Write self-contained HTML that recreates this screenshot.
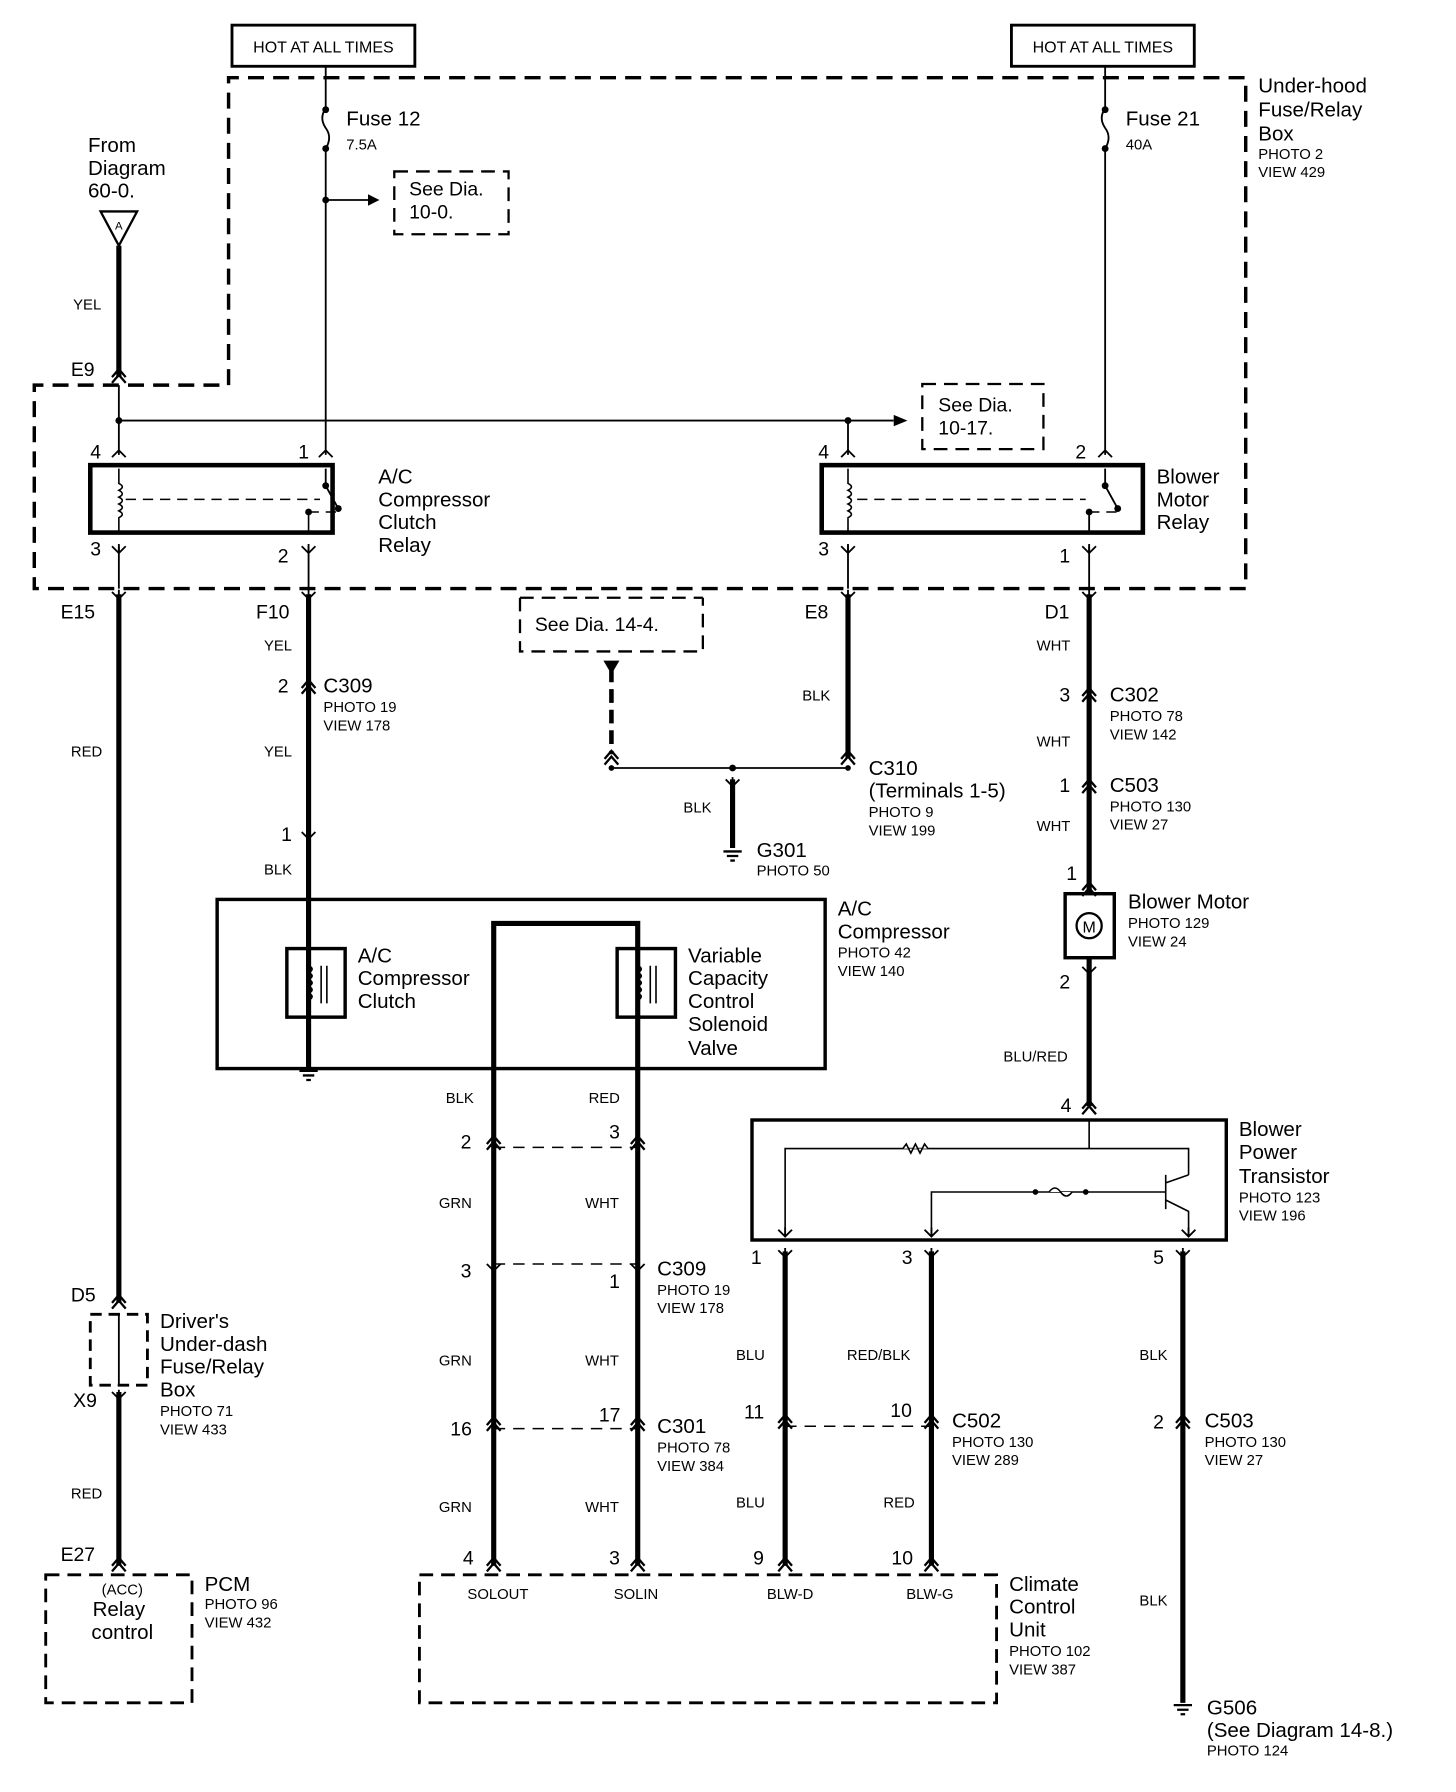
<!DOCTYPE html>
<html><head><meta charset="utf-8"><style>
html,body{margin:0;padding:0;background:#fff;}
svg{display:block;}
text{font-family:"Liberation Sans",sans-serif;fill:#000;}
.b{font-size:18px;}
.s{font-size:13px;}
.n{font-size:17px;}
</style></head><body>
<svg width="1456" height="1792" viewBox="0 0 1274 1568" preserveAspectRatio="none" xmlns="http://www.w3.org/2000/svg">
<defs>
<g id="cu" fill="none" stroke="#000" stroke-width="2"><path d="M-6 4 L0 -3 L6 4 M-6 9 L0 2 L6 9"/></g>
<g id="yd" fill="none" stroke="#000" stroke-width="1.6"><path d="M-6 -6 L0 0 L6 -6 M0 0 V-8"/></g>
<g id="yu" fill="none" stroke="#000" stroke-width="1.6"><path d="M-6 6 L0 0 L6 6"/></g>
<g id="gnd" stroke="#000" stroke-width="2"><path d="M-8 0 H8 M-5 4 H5 M-2 8 H2"/></g>
</defs>
<g fill="none" stroke="#000">
<rect x="203" y="22" width="160" height="36" stroke-width="2.5"/>
<rect x="885" y="22" width="160" height="36" stroke-width="2.5"/>
<path d="M200 337 V68 H1090 V515 H30 V337 H200" stroke-width="3" stroke-dasharray="14 8"/>
<path d="M285 58 V95 M285 130 V398" stroke-width="1.6"/>
<path d="M285 95 q-6 8 0 17 q6 8 0 18" stroke-width="1.6"/>
<path d="M967 58 V95 M967 130 V398" stroke-width="1.6"/>
<path d="M967 95 q-6 8 0 17 q6 8 0 18" stroke-width="1.6"/>
<path d="M285 175 H322" stroke-width="1.6"/>
<rect x="345" y="150" width="100" height="55" stroke-width="2" stroke-dasharray="12 7"/>
<path d="M88 185 H120 L104 215 Z" stroke-width="2"/>
<path d="M104 215 V330" stroke-width="4.5"/>
<path d="M104 337 V398 M104 368 H782" stroke-width="1.6"/>
<path d="M742 368 V398" stroke-width="1.6"/>
<rect x="807" y="336" width="106" height="57" stroke-width="2" stroke-dasharray="12 7"/>
<rect x="79" y="407" width="212" height="59" stroke-width="4"/>
<rect x="719" y="407" width="281" height="59" stroke-width="4"/>
<path d="M104 410 V423 q6 3 0 6 q6 3 0 6 q6 3 0 6 q6 3 0 6 q6 3 0 6 V466 M742 410 V423 q6 3 0 6 q6 3 0 6 q6 3 0 6 q6 3 0 6 q6 3 0 6 V466 M270 466 V448" stroke-width="1.4"/>
<path d="M110 437 H280 M270 448 H296 M750 437 H950 M953 448 H980" stroke-width="1.3" stroke-dasharray="9 6"/>
<path d="M285 410 V425 L296 445 M967 410 V425 L978 445 M953 466 V448" stroke-width="1.6"/>
<path d="M104 478 V515 M270 478 V515 M742 478 V515 M953 478 V515" stroke-width="1.6"/>
<path d="M104 520 V1140 M104 1218 V1370" stroke-width="4.5"/>
<path d="M104 1150 V1212" stroke-width="1.6"/>
<rect x="79" y="1150" width="50" height="62" stroke-width="2.5" stroke-dasharray="10 6"/>
<path d="M270 520 V935" stroke-width="4.5"/>
<path d="M742 520 V663" stroke-width="4.5"/>
<path d="M953 520 V782 M953 838 V968" stroke-width="4.5"/>
<path d="M455 523 V570 H615 V523 M455 523 H615" stroke-width="2" stroke-dasharray="12 7"/>
<path d="M535 585 V660" stroke-width="4" stroke-dasharray="12 6"/>
<path d="M535 672 H742" stroke-width="1.6"/>
<path d="M641 682 V742" stroke-width="4.5"/>
<rect x="190" y="787" width="532" height="148" stroke-width="3"/>
<rect x="251" y="830" width="51" height="60" stroke-width="3"/>
<rect x="540" y="830" width="51" height="60" stroke-width="3"/>
<path d="M432 1370 V808 H558 V1370" stroke-width="4.5"/>
<path d="M281 845 V878 M286 845 V878 M569 845 V878 M574 845 V878" stroke-width="1.4"/>
<path d="M270 845 q6 3 0 6 q6 3 0 6 q6 3 0 6 q6 3 0 6 q6 3 0 6 M558 845 q6 3 0 6 q6 3 0 6 q6 3 0 6 q6 3 0 6 q6 3 0 6" stroke-width="1.6"/>
<path d="M432 1004 H558 M432 1106 H558 M432 1250 H558 M687 1248 H815" stroke-width="1.3" stroke-dasharray="10 7"/>
<rect x="932" y="782" width="43" height="56" stroke-width="3"/>
<circle cx="953" cy="810" r="11" stroke-width="2"/>
<rect x="658" y="980" width="415" height="105" stroke-width="3"/>
<path d="M953 980 V1005 H687 V1082 M953 1005 H1040 V1028 M1020 1028 V1058 M1020 1035 L1040 1028 M1020 1050 L1040 1060 V1082 M815 1082 V1043 H1020" stroke-width="1.4"/>
<path d="M790 1005 l3 -4 l4 8 l4 -8 l4 8 l4 -8 l3 4" stroke="#000" fill="#fff" stroke-width="1.4"/>
<path d="M918 1043 q5 -7 10 0 q5 7 10 0" fill="#fff" stroke-width="1.4"/>
<path d="M687 1095 V1370 M815 1095 V1370 M1035 1095 V1490" stroke-width="4.5"/>
<rect x="40" y="1378" width="128" height="112" stroke-width="2.5" stroke-dasharray="12 7"/>
<rect x="367" y="1378" width="505" height="112" stroke-width="2.5" stroke-dasharray="12 7"/>
</g>
<g fill="#000">
<circle cx="285" cy="175" r="3"/><circle cx="285" cy="96" r="3"/><circle cx="285" cy="130" r="3"/>
<circle cx="967" cy="96" r="3"/><circle cx="967" cy="130" r="3"/>
<circle cx="104" cy="368" r="3"/><circle cx="742" cy="368" r="3"/>
<circle cx="641" cy="672" r="3"/><circle cx="535" cy="672" r="2.5"/><circle cx="742" cy="672" r="2.5"/>
<circle cx="285" cy="425" r="3"/><circle cx="296" cy="445" r="3"/><circle cx="270" cy="448" r="3"/>
<circle cx="967" cy="425" r="3"/><circle cx="978" cy="445" r="3"/><circle cx="953" cy="448" r="3"/>
<circle cx="906" cy="1043" r="2.5"/><circle cx="950" cy="1043" r="2.5"/>
<path d="M322 170 L332 175 L322 180 Z"/><path d="M782 363 L794 368 L782 373 Z"/>
<path d="M528 578 H542 L535 590 Z"/>
</g>
<use href="#cu" x="104" y="326"/>
<use href="#yu" x="104" y="394"/><use href="#yu" x="285" y="394"/><use href="#yu" x="742" y="394"/><use href="#yu" x="967" y="394"/>
<use href="#yd" x="104" y="484"/><use href="#yd" x="270" y="484"/><use href="#yd" x="742" y="484"/><use href="#yd" x="953" y="484"/>
<use href="#yd" x="104" y="524"/><use href="#yd" x="270" y="524"/><use href="#yd" x="742" y="524"/><use href="#yd" x="953" y="524"/>
<use href="#cu" x="270" y="598"/><use href="#yd" x="270" y="734"/>
<use href="#cu" x="535" y="660"/><use href="#cu" x="742" y="660"/><use href="#yd" x="641" y="688"/>
<use href="#cu" x="953" y="605"/><use href="#cu" x="953" y="685"/><use href="#cu" x="953" y="775"/><use href="#yd" x="953" y="852"/><use href="#cu" x="953" y="966"/>
<use href="#cu" x="432" y="997"/><use href="#cu" x="558" y="997"/>
<use href="#yd" x="432" y="1112"/><use href="#yd" x="558" y="1112"/>
<use href="#cu" x="432" y="1243"/><use href="#cu" x="558" y="1243"/>
<use href="#cu" x="432" y="1366"/><use href="#cu" x="558" y="1366"/><use href="#cu" x="687" y="1366"/><use href="#cu" x="815" y="1366"/><use href="#cu" x="104" y="1366"/>
<use href="#yd" x="687" y="1100"/><use href="#yd" x="815" y="1100"/><use href="#yd" x="1035" y="1100"/>
<use href="#yd" x="687" y="1082"/><use href="#yd" x="815" y="1082"/><use href="#yd" x="1040" y="1082"/>
<use href="#cu" x="687" y="1241"/><use href="#cu" x="815" y="1241"/><use href="#cu" x="1035" y="1241"/>
<use href="#cu" x="104" y="1136"/><use href="#yd" x="104" y="1224"/>
<use href="#gnd" x="270" y="937"/><use href="#gnd" x="641" y="745"/><use href="#gnd" x="1035" y="1492"/>
<text x="283" y="46" text-anchor="middle" class="s" style="font-size:14px">HOT AT ALL TIMES</text>
<text x="965" y="46" text-anchor="middle" class="s" style="font-size:14px">HOT AT ALL TIMES</text>
<text x="303" y="110" class="b">Fuse 12</text><text x="303" y="131" class="s">7.5A</text>
<text x="985" y="110" class="b">Fuse 21</text><text x="985" y="131" class="s">40A</text>
<text x="1101" y="81" class="b">Under-hood</text><text x="1101" y="102" class="b">Fuse/Relay</text><text x="1101" y="123" class="b">Box</text>
<text x="1101" y="139" class="s">PHOTO 2</text><text x="1101" y="155" class="s">VIEW 429</text>
<text x="358" y="171" class="n">See Dia.</text><text x="358" y="191" class="n">10-0.</text>
<text x="821" y="360" class="n">See Dia.</text><text x="821" y="380" class="n">10-17.</text>
<text x="77" y="133" class="b">From</text><text x="77" y="153" class="b">Diagram</text><text x="77" y="173" class="b">60-0.</text>
<text x="104" y="201" text-anchor="middle" style="font-size:10px">A</text>
<text x="64" y="271" class="s">YEL</text><text x="62" y="329" class="n">E9</text>
<text x="79" y="401" class="n">4</text><text x="261" y="401" class="n">1</text><text x="716" y="401" class="n">4</text><text x="941" y="401" class="n">2</text>
<text x="79" y="486" class="n">3</text><text x="243" y="492" class="n">2</text><text x="716" y="486" class="n">3</text><text x="927" y="492" class="n">1</text>
<text x="331" y="423" class="b">A/C</text><text x="331" y="443" class="b">Compressor</text><text x="331" y="463" class="b">Clutch</text><text x="331" y="483" class="b">Relay</text>
<text x="1012" y="423" class="b">Blower</text><text x="1012" y="443" class="b">Motor</text><text x="1012" y="463" class="b">Relay</text>
<text x="53" y="541" class="n">E15</text><text x="224" y="541" class="n">F10</text><text x="704" y="541" class="n">E8</text><text x="914" y="541" class="n">D1</text>
<text x="468" y="552" class="n">See Dia. 14-4.</text>
<text x="62" y="662" class="s">RED</text>
<text x="231" y="569" class="s">YEL</text><text x="231" y="662" class="s">YEL</text><text x="231" y="765" class="s">BLK</text>
<text x="243" y="606" class="n">2</text><text x="283" y="606" class="b">C309</text><text x="283" y="623" class="s">PHOTO 19</text><text x="283" y="639" class="s">VIEW 178</text>
<text x="246" y="736" class="n">1</text>
<text x="702" y="613" class="s">BLK</text>
<text x="598" y="711" class="s">BLK</text>
<text x="760" y="678" class="b">C310</text><text x="760" y="698" class="b">(Terminals 1-5)</text><text x="760" y="715" class="s">PHOTO 9</text><text x="760" y="731" class="s">VIEW 199</text>
<text x="662" y="750" class="b">G301</text><text x="662" y="766" class="s">PHOTO 50</text>
<text x="907" y="569" class="s">WHT</text><text x="907" y="653" class="s">WHT</text><text x="907" y="727" class="s">WHT</text>
<text x="927" y="614" class="n">3</text><text x="971" y="614" class="b">C302</text><text x="971" y="631" class="s">PHOTO 78</text><text x="971" y="647" class="s">VIEW 142</text>
<text x="927" y="693" class="n">1</text><text x="971" y="693" class="b">C503</text><text x="971" y="710" class="s">PHOTO 130</text><text x="971" y="726" class="s">VIEW 27</text>
<text x="933" y="770" class="n">1</text><text x="927" y="865" class="n">2</text>
<text x="953" y="816" text-anchor="middle" style="font-size:14px">M</text>
<text x="987" y="795" class="b">Blower Motor</text><text x="987" y="812" class="s">PHOTO 129</text><text x="987" y="828" class="s">VIEW 24</text>
<text x="878" y="929" class="s">BLU/RED</text><text x="928" y="973" class="n">4</text>
<text x="1084" y="994" class="b">Blower</text><text x="1084" y="1014" class="b">Power</text><text x="1084" y="1035" class="b">Transistor</text><text x="1084" y="1052" class="s">PHOTO 123</text><text x="1084" y="1068" class="s">VIEW 196</text>
<text x="733" y="801" class="b">A/C</text><text x="733" y="821" class="b">Compressor</text><text x="733" y="838" class="s">PHOTO 42</text><text x="733" y="854" class="s">VIEW 140</text>
<text x="313" y="842" class="b">A/C</text><text x="313" y="862" class="b">Compressor</text><text x="313" y="882" class="b">Clutch</text>
<text x="602" y="842" class="b">Variable</text><text x="602" y="862" class="b">Capacity</text><text x="602" y="882" class="b">Control</text><text x="602" y="902" class="b">Solenoid</text><text x="602" y="923" class="b">Valve</text>
<text x="390" y="965" class="s">BLK</text><text x="515" y="965" class="s">RED</text>
<text x="403" y="1005" class="n">2</text><text x="533" y="996" class="n">3</text>
<text x="384" y="1057" class="s">GRN</text><text x="512" y="1057" class="s">WHT</text>
<text x="403" y="1118" class="n">3</text><text x="533" y="1127" class="n">1</text>
<text x="575" y="1116" class="b">C309</text><text x="575" y="1133" class="s">PHOTO 19</text><text x="575" y="1149" class="s">VIEW 178</text>
<text x="384" y="1195" class="s">GRN</text><text x="512" y="1195" class="s">WHT</text>
<text x="394" y="1256" class="n">16</text><text x="524" y="1244" class="n">17</text>
<text x="575" y="1254" class="b">C301</text><text x="575" y="1271" class="s">PHOTO 78</text><text x="575" y="1287" class="s">VIEW 384</text>
<text x="384" y="1323" class="s">GRN</text><text x="512" y="1323" class="s">WHT</text>
<text x="405" y="1369" class="n">4</text><text x="533" y="1369" class="n">3</text><text x="659" y="1369" class="n">9</text><text x="780" y="1369" class="n">10</text>
<text x="409" y="1399" class="s">SOLOUT</text><text x="537" y="1399" class="s">SOLIN</text><text x="671" y="1399" class="s">BLW-D</text><text x="793" y="1399" class="s">BLW-G</text>
<text x="883" y="1392" class="b">Climate</text><text x="883" y="1412" class="b">Control</text><text x="883" y="1432" class="b">Unit</text><text x="883" y="1449" class="s">PHOTO 102</text><text x="883" y="1465" class="s">VIEW 387</text>
<text x="657" y="1106" class="n">1</text><text x="789" y="1106" class="n">3</text><text x="1009" y="1106" class="n">5</text>
<text x="644" y="1190" class="s">BLU</text><text x="741" y="1190" class="s">RED/BLK</text><text x="997" y="1190" class="s">BLK</text>
<text x="651" y="1241" class="n">11</text><text x="779" y="1240" class="n">10</text><text x="1009" y="1250" class="n">2</text>
<text x="833" y="1249" class="b">C502</text><text x="833" y="1266" class="s">PHOTO 130</text><text x="833" y="1282" class="s">VIEW 289</text>
<text x="1054" y="1249" class="b">C503</text><text x="1054" y="1266" class="s">PHOTO 130</text><text x="1054" y="1282" class="s">VIEW 27</text>
<text x="644" y="1319" class="s">BLU</text><text x="773" y="1319" class="s">RED</text>
<text x="997" y="1405" class="s">BLK</text>
<text x="1056" y="1500" class="b">G506</text><text x="1056" y="1520" class="b">(See Diagram 14-8.)</text><text x="1056" y="1536" class="s">PHOTO 124</text>
<text x="62" y="1139" class="n">D5</text><text x="64" y="1231" class="n">X9</text>
<text x="140" y="1162" class="b">Driver's</text><text x="140" y="1182" class="b">Under-dash</text><text x="140" y="1202" class="b">Fuse/Relay</text><text x="140" y="1222" class="b">Box</text><text x="140" y="1239" class="s">PHOTO 71</text><text x="140" y="1255" class="s">VIEW 433</text>
<text x="62" y="1311" class="s">RED</text><text x="53" y="1366" class="n">E27</text>
<text x="107" y="1395" text-anchor="middle" class="s">(ACC)</text><text x="104" y="1414" text-anchor="middle" class="b">Relay</text><text x="107" y="1434" text-anchor="middle" class="b">control</text>
<text x="179" y="1392" class="b">PCM</text><text x="179" y="1408" class="s">PHOTO 96</text><text x="179" y="1424" class="s">VIEW 432</text>
</svg>
</body></html>
